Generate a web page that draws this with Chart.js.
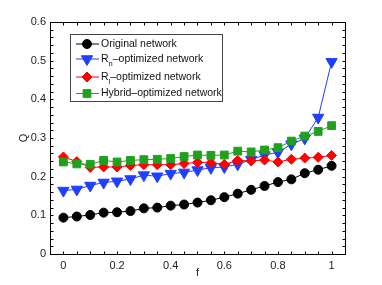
<!DOCTYPE html>
<html>
<head>
<meta charset="utf-8">
<script src="https://cdn.jsdelivr.net/npm/chart.js"></script>
<style>
  html, body { margin: 0; padding: 0; background: #ffffff; }
  canvas { display: block; }
</style>
</head>
<body>
<canvas id="qChart" width="382" height="285"></canvas>
<script>
// f values (x axis)
const fValues = [0, 0.05, 0.1, 0.15, 0.2, 0.25, 0.3, 0.35, 0.4, 0.45, 0.5,
                 0.55, 0.6, 0.65, 0.7, 0.75, 0.8, 0.85, 0.9, 0.95, 1];

// Q for each network
const originalQ = [0.094, 0.097, 0.101, 0.107, 0.108, 0.111, 0.118, 0.120, 0.125, 0.128, 0.133,
                   0.139, 0.147, 0.156, 0.166, 0.176, 0.186, 0.193, 0.209, 0.218, 0.228];
const rnQ       = [0.164, 0.167, 0.177, 0.185, 0.188, 0.194, 0.204, 0.201, 0.208, 0.211, 0.217,
                   0.223, 0.225, 0.232, 0.244, 0.256, 0.263, 0.284, 0.299, 0.353, 0.497];
const rlQ       = [0.251, 0.239, 0.224, 0.225, 0.225, 0.229, 0.231, 0.231, 0.231, 0.234, 0.237,
                   0.236, 0.232, 0.242, 0.241, 0.243, 0.238, 0.245, 0.248, 0.250, 0.255];
const hybridQ   = [0.238, 0.233, 0.232, 0.242, 0.238, 0.242, 0.244, 0.245, 0.247, 0.252, 0.256,
                   0.255, 0.256, 0.266, 0.264, 0.269, 0.275, 0.292, 0.305, 0.317, 0.332];

const xTicks = [0, 0.2, 0.4, 0.6, 0.8, 1];
const yTicks = [0, 0.1, 0.2, 0.3, 0.4, 0.5, 0.6];

// legend text: [main, subscript, rest]
const legendNames = [
  ['Original network', '', ''],
  ['R', 'n', '\u2013optimized network'],
  ['R', 'l', '\u2013optimized network'],
  ['Hybrid\u2013optimized network', '', '']
];

const FONT = "'Liberation Sans', Arial, sans-serif";

function series(values, color, style, radius, rotation, order) {
  return {
    data: fValues.map((f, i) => ({ x: f, y: values[i] })),
    borderColor: color,
    backgroundColor: color,
    borderWidth: 1,
    pointStyle: style,
    pointRadius: radius,
    pointRotation: rotation,
    pointBorderWidth: 1,
    pointBorderColor: color,
    pointBackgroundColor: color,
    tension: 0,
    order: order
  };
}

const datasets = [
  series(originalQ, '#000000', 'circle', 4.5, 0, 4),
  series(rnQ, '#1f3fff', 'triangle', 6.5, 180, 3),
  series(rlQ, '#ff0000', 'rectRot', 5, 0, 2),
  series(hybridQ, '#1fa01f', 'rect', 5.5, 0, 1)
];

// matlab-like box with inward ticks on all sides, plus the legend
const matlabBox = {
  id: 'matlabBox',
  afterDatasetsDraw(chart) {
    const { ctx, chartArea: a, scales: { x, y } } = chart;
    const L = Math.round(a.left) + 0.5, R = Math.round(a.right) + 0.5;
    const T = Math.round(a.top) + 0.5, B = Math.round(a.bottom) + 0.5;
    ctx.save();
    ctx.strokeStyle = '#000';
    ctx.lineWidth = 1;
    ctx.strokeRect(L, T, R - L, B - T);

    ctx.beginPath();
    for (let v = -0.05; v <= 1.05 + 1e-9; v += 0.05) {
      const px = Math.round(x.getPixelForValue(v)) + 0.5;
      ctx.moveTo(px, B); ctx.lineTo(px, B - 3);
      ctx.moveTo(px, T); ctx.lineTo(px, T + 3);
    }
    for (let v = 0; v <= 0.6 + 1e-9; v += 0.02) {
      const py = Math.round(y.getPixelForValue(v)) + 0.5;
      ctx.moveTo(L, py); ctx.lineTo(L + 3, py);
      ctx.moveTo(R, py); ctx.lineTo(R - 3, py);
    }
    ctx.stroke();

    // legend
    const bx = 70.5, by = 34.5, bw = 152, bh = 67;
    ctx.fillStyle = '#fff';
    ctx.fillRect(bx, by, bw, bh);
    ctx.strokeStyle = '#444';
    ctx.strokeRect(bx, by, bw, bh);
    const rowY = [44, 59, 77, 93.5];
    chart.data.datasets.forEach((ds, i) => {
      const yy = rowY[i];
      ctx.strokeStyle = ds.borderColor;
      ctx.fillStyle = ds.backgroundColor;
      ctx.lineWidth = 1;
      ctx.beginPath();
      ctx.moveTo(76, yy); ctx.lineTo(99, yy);
      ctx.stroke();
      Chart.helpers.drawPoint(ctx, {
        pointStyle: ds.pointStyle, rotation: ds.pointRotation,
        radius: ds.pointRadius, borderWidth: 1
      }, 87, yy);

      const [main, sub, rest] = legendNames[i];
      ctx.fillStyle = '#111';
      ctx.textBaseline = 'middle';
      ctx.textAlign = 'left';
      ctx.font = '10.5px ' + FONT;
      let tx = 101;
      ctx.fillText(main, tx, yy);
      tx += ctx.measureText(main).width;
      if (sub) {
        ctx.font = '7.5px ' + FONT;
        ctx.fillText(sub, tx, yy + 5);
        tx += ctx.measureText(sub).width;
        ctx.font = '10.5px ' + FONT;
        ctx.fillText(rest, tx, yy);
      }
    });
    ctx.restore();
  }
};

new Chart(document.getElementById('qChart'), {
  type: 'line',
  data: { datasets: datasets },
  plugins: [matlabBox],
  options: {
    responsive: false,
    animation: false,
    layout: { padding: { left: 0, right: 37, top: 22, bottom: 0 } },
    plugins: { legend: { display: false }, tooltip: { enabled: false } },
    scales: {
      x: {
        type: 'linear',
        min: -0.05, max: 1.05,
        afterBuildTicks: s => { s.ticks = xTicks.map(v => ({ value: v })); },
        afterFit: s => { s.height = 31; },
        grid: { display: false, drawTicks: false },
        border: { display: false },
        ticks: {
          padding: 5,
          color: '#222',
          font: { family: FONT, size: 11 },
          maxRotation: 0,
          callback: v => String(+v.toFixed(2))
        },
        title: {
          display: true, text: 'f', color: '#222',
          font: { family: FONT, size: 11 },
          padding: { top: 0, bottom: 5 }
        }
      },
      y: {
        type: 'linear',
        min: 0, max: 0.6,
        afterBuildTicks: s => { s.ticks = yTicks.map(v => ({ value: v })); },
        afterFit: s => { s.width = 50; },
        grid: { display: false, drawTicks: false },
        border: { display: false },
        ticks: {
          padding: 4,
          color: '#222',
          font: { family: FONT, size: 11 },
          callback: v => String(+v.toFixed(2))
        },
        title: {
          display: true, text: 'Q', color: '#222',
          font: { family: FONT, size: 11 },
          padding: { top: 17, bottom: 0 }
        }
      }
    }
  }
});
</script>
</body>
</html>
